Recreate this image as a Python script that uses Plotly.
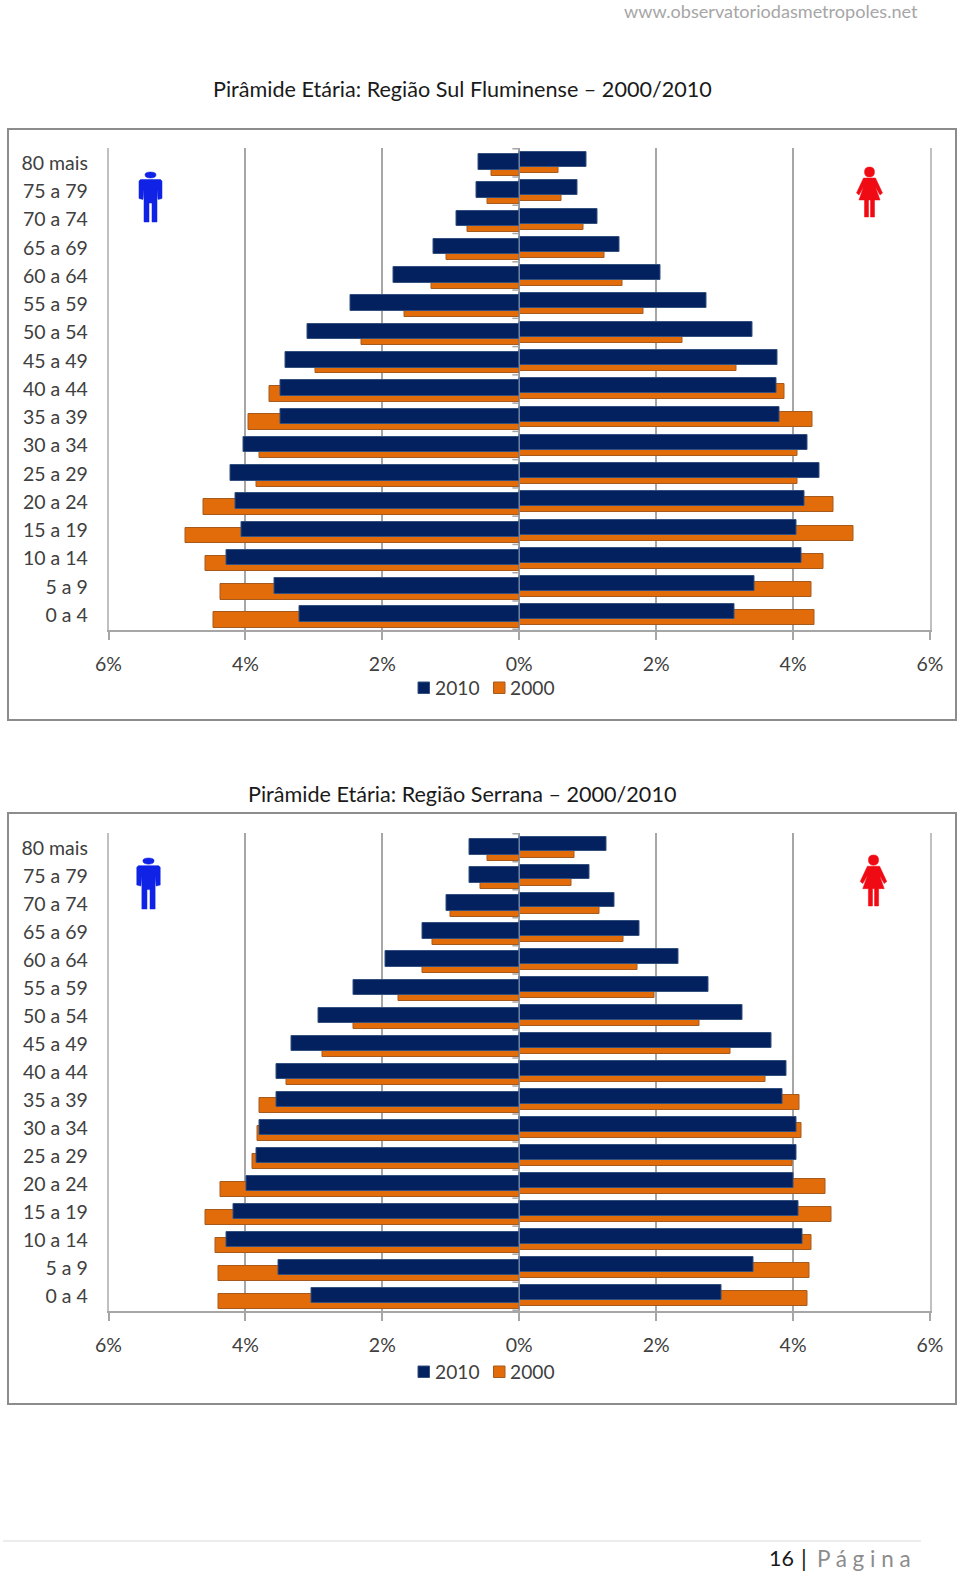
import plotly.graph_objects as go

W, H = 960, 1574
FONT = "Lato"
TEXT = "#404040"
NAVY = "#03215f"
ORANGE = "#e36c0a"
NAVY_LINE = "#34507f"
ORANGE_LINE = "#a55a1e"
AXIS = "#a6a6a6"

age_groups = ["0 a 4", "5 a 9", "10 a 14", "15 a 19", "20 a 24", "25 a 29", "30 a 34", "35 a 39",
              "40 a 44", "45 a 49", "50 a 54", "55 a 59", "60 a 64", "65 a 69", "70 a 74", "75 a 79", "80 mais"]

sul_men_2010 = [-3.21, -3.58, -4.28, -4.05, -4.15, -4.22, -4.03, -3.49, -3.49, -3.42, -3.10, -2.46, -1.83, -1.25, -0.91, -0.62, -0.60]
sul_men_2000 = [-4.47, -4.36, -4.59, -4.88, -4.61, -3.84, -3.80, -3.96, -3.65, -2.98, -2.30, -1.67, -1.28, -1.06, -0.76, -0.47, -0.40]
sul_women_2010 = [3.14, 3.43, 4.12, 4.05, 4.17, 4.39, 4.21, 3.80, 3.76, 3.77, 3.40, 2.73, 2.07, 1.47, 1.14, 0.85, 0.98]
sul_women_2000 = [4.31, 4.27, 4.44, 4.88, 4.59, 4.06, 4.06, 4.28, 3.87, 3.17, 2.39, 1.82, 1.51, 1.25, 0.94, 0.62, 0.57]

ser_men_2010 = [-3.04, -3.52, -4.27, -4.17, -3.99, -3.84, -3.80, -3.55, -3.54, -3.33, -2.93, -2.42, -1.95, -1.42, -1.07, -0.73, -0.72]
ser_men_2000 = [-4.39, -4.40, -4.44, -4.58, -4.36, -3.90, -3.83, -3.80, -3.40, -2.88, -2.42, -1.77, -1.41, -1.26, -1.01, -0.57, -0.47]
ser_women_2010 = [2.95, 3.42, 4.14, 4.08, 4.00, 4.05, 4.05, 3.84, 3.90, 3.68, 3.26, 2.76, 2.33, 1.75, 1.39, 1.03, 1.28]
ser_women_2000 = [4.21, 4.24, 4.27, 4.56, 4.47, 3.99, 4.12, 4.09, 3.59, 3.08, 2.63, 1.97, 1.72, 1.53, 1.17, 0.76, 0.81]

x_ticks = [-6, -4, -2, 0, 2, 4, 6]
x_labels = ["6%", "4%", "2%", "0%", "2%", "4%", "6%"]

titles = ["Pirâmide Etária: Região Sul Fluminense – 2000/2010", "Pirâmide Etária: Região Serrana – 2000/2010"]
years = ["2010", "2000"]


def px(x):
    return x / W


def py(y):
    return 1 - y / H


fig = go.Figure()
panels = [
    dict(men10=sul_men_2010, men00=sul_men_2000, wom10=sul_women_2010, wom00=sul_women_2000,
         top=148, bottom=630, frame=(8, 129, 956, 720), xa="x", ya="y", title_y=89,
         legend_y=687.5, man=(150.5, 172, 222), woman=(869.5, 167, 217), title=titles[0],
         left=(-0.24, -0.45, 0.55), right=(-0.15, -0.36, 0.53)),
    dict(men10=ser_men_2010, men00=ser_men_2000, wom10=ser_women_2010, wom00=ser_women_2000,
         top=833, bottom=1311, frame=(8, 813, 956, 1404), xa="x2", ya="y2", title_y=794,
         legend_y=1371.5, man=(148.5, 858, 909), woman=(873.5, 855, 906), title=titles[1],
         left=(-0.25, -0.46, 0.55), right=(-0.13, -0.35, 0.52)),
]

shapes = []
annotations = []
for i, p in enumerate(panels):
    ln, lo, lw = p["left"]
    rn, ro, rw = p["right"]
    for vals, color, line, offset, width, name in [
        (p["men00"], ORANGE, ORANGE_LINE, lo, lw, years[1]),
        (p["wom00"], ORANGE, ORANGE_LINE, ro, rw, years[1]),
        (p["men10"], NAVY, NAVY_LINE, ln, lw, years[0]),
        (p["wom10"], NAVY, NAVY_LINE, rn, rw, years[0]),
    ]:
        fig.add_trace(go.Bar(
            x=vals, y=age_groups, orientation="h", name=name, showlegend=False,
            marker=dict(color=color, line=dict(color=line, width=1)),
            offset=offset, width=width, xaxis=p["xa"], yaxis=p["ya"],
        ))
    l, t, r, b = p["frame"]
    shapes.append(dict(type="rect", xref="paper", yref="paper", x0=px(l), x1=px(r), y0=py(t), y1=py(b),
                       line=dict(color="#8c8c8c", width=2), fillcolor="rgba(0,0,0,0)", layer="below"))
    annotations.append(dict(text=p["title"], xref="paper", yref="paper", x=px(462), y=py(p["title_y"]),
                            xanchor="center", yanchor="middle", showarrow=False,
                            font=dict(family=FONT, size=21.6, color="#1a1a1a")))
    # Category axis crossing at 0 with its short ticks between the age bands
    shapes.append(dict(type="line", xref=p["xa"], yref=p["ya"], x0=0, x1=0, y0=-0.5, y1=len(age_groups) - 0.5,
                       line=dict(color="#8496b0", width=1)))
    for k in range(len(age_groups) + 1):
        shapes.append(dict(type="line", xref=p["xa"], yref=p["ya"], x0=-0.1, x1=0, y0=k - 0.5, y1=k - 0.5,
                           line=dict(color=AXIS, width=1.5)))
    # Legend key drawn to the reference's tight swatch/label spacing
    for yr, color, line, sx, tx in [(years[0], NAVY, NAVY_LINE, 418, 433), (years[1], ORANGE, ORANGE_LINE, 493.5, 508)]:
        ly = p["legend_y"]
        shapes.append(dict(type="rect", xref="paper", yref="paper", x0=px(sx), x1=px(sx + 11.5),
                           y0=py(ly - 5.5), y1=py(ly + 6), fillcolor=color, line=dict(color=line, width=1)))
        annotations.append(dict(text=yr, xref="paper", yref="paper", x=px(tx), y=py(ly), xanchor="left",
                                yanchor="middle", showarrow=False, font=dict(family=FONT, size=19.2, color=TEXT)))
    # Pictograms
    cx, y0, y1 = p["man"]
    h = y1 - y0
    def m(dx, dy):
        return f"{px(cx + dx * h):.5f},{py(y0 + dy * h):.5f}"
    man_path = ("M" + m(-0.11, 0.055) + "Q" + m(-0.11, 0) + " " + m(0, 0) + "Q" + m(0.11, 0) + " " + m(0.11, 0.055)
                + "Q" + m(0.11, 0.12) + " " + m(0, 0.12) + "Q" + m(-0.11, 0.12) + " " + m(-0.11, 0.055) + "Z"
                + "M" + m(-0.2, 0.15) + "L" + m(0.2, 0.15) + "L" + m(0.23, 0.18) + "L" + m(0.23, 0.53) + "L" + m(0.15, 0.55)
                + "L" + m(0.13, 0.35) + "L" + m(0.13, 1) + "L" + m(0.03, 1) + "L" + m(0.03, 0.62) + "L" + m(-0.03, 0.62)
                + "L" + m(-0.03, 1) + "L" + m(-0.13, 1) + "L" + m(-0.13, 0.35) + "L" + m(-0.15, 0.55)
                + "L" + m(-0.23, 0.53) + "L" + m(-0.23, 0.18) + "Z")
    shapes.append(dict(type="path", xref="paper", yref="paper", path=man_path,
                       fillcolor="#0f22e6", line=dict(color="#0f22e6", width=0.5)))
    cx, y0, y1 = p["woman"]
    h = y1 - y0
    def w(dx, dy):
        return f"{px(cx + dx * h):.5f},{py(y0 + dy * h):.5f}"
    woman_path = ("M" + w(-0.1, 0.1) + "Q" + w(-0.1, 0) + " " + w(0, 0) + "Q" + w(0.1, 0) + " " + w(0.1, 0.1)
                  + "Q" + w(0.1, 0.2) + " " + w(0, 0.2) + "Q" + w(-0.1, 0.2) + " " + w(-0.1, 0.1) + "Z"
                  + "M" + w(-0.12, 0.22) + "L" + w(0.12, 0.22) + "L" + w(0.26, 0.52) + "L" + w(0.21, 0.56)
                  + "L" + w(0.12, 0.4) + "L" + w(0.21, 0.66) + "L" + w(0.1, 0.66) + "L" + w(0.1, 1) + "L" + w(0.02, 1)
                  + "L" + w(0.02, 0.66) + "L" + w(-0.02, 0.66) + "L" + w(-0.02, 1) + "L" + w(-0.1, 1) + "L" + w(-0.1, 0.66)
                  + "L" + w(-0.21, 0.66) + "L" + w(-0.12, 0.4) + "L" + w(-0.21, 0.56) + "L" + w(-0.26, 0.52) + "Z")
    shapes.append(dict(type="path", xref="paper", yref="paper", path=woman_path,
                       fillcolor="#f00a14", line=dict(color="#f00a14", width=0.5)))

# Page furniture
annotations.append(dict(text="www.observatoriodasmetropoles.net", xref="paper", yref="paper", x=px(920), y=py(11.5),
                        xanchor="right", yanchor="middle", showarrow=False,
                        font=dict(family=FONT, size=18.1, color="#a6a6a6")))
annotations.append(dict(text="16", xref="paper", yref="paper", x=px(796), y=py(1558), xanchor="right",
                        yanchor="middle", showarrow=False, font=dict(family=FONT, size=21.5, color="#1a1a1a")))
annotations.append(dict(text="|", xref="paper", yref="paper", x=px(804), y=py(1558), xanchor="center",
                        yanchor="middle", showarrow=False, font=dict(family=FONT, size=23, color="#1a1a1a")))
annotations.append(dict(text="P á g i n a", xref="paper", yref="paper", x=px(913), y=py(1558), xanchor="right",
                        yanchor="middle", showarrow=False, font=dict(family=FONT, size=22.5, color="#8c8c8c")))
shapes.append(dict(type="line", xref="paper", yref="paper", x0=px(3), x1=px(921), y0=py(1541), y1=py(1541),
                   line=dict(color="#d9d9d9", width=1)))

axis_x = dict(range=[-6, 6], tickvals=x_ticks, ticktext=x_labels, showgrid=True, gridcolor=AXIS, gridwidth=1.5,
              zeroline=False, showline=True, linecolor=AXIS, linewidth=1.5, ticks="outside", ticklen=8,
              tickcolor=AXIS, tickwidth=1.5, ticklabelstandoff=8, automargin=False,
              tickfont=dict(family=FONT, size=19.5, color=TEXT))
axis_y = dict(type="category", categoryorder="array", categoryarray=age_groups, showgrid=False, zeroline=False,
              showline=True, mirror=True, linecolor="#c0c0c0", linewidth=1.5, ticks="", ticklabelstandoff=15,
              automargin=False, tickfont=dict(family=FONT, size=19.5, color=TEXT))

fig.update_layout(
    width=W, height=H, margin=dict(l=0, r=0, t=0, b=0), paper_bgcolor="white", plot_bgcolor="white",
    barmode="overlay", bargap=0, showlegend=False,
    xaxis=dict(axis_x, domain=[px(108.5), px(930)], anchor="y"),
    yaxis=dict(axis_y, domain=[py(panels[0]["bottom"]), py(panels[0]["top"])], anchor="x"),
    xaxis2=dict(axis_x, domain=[px(108.5), px(930)], anchor="y2"),
    yaxis2=dict(axis_y, domain=[py(panels[1]["bottom"]), py(panels[1]["top"])], anchor="x2"),
    shapes=shapes, annotations=annotations,
)

fig.write_html("out.html", config=dict(displayModeBar=False), post_script="document.body.style.margin='0';")
